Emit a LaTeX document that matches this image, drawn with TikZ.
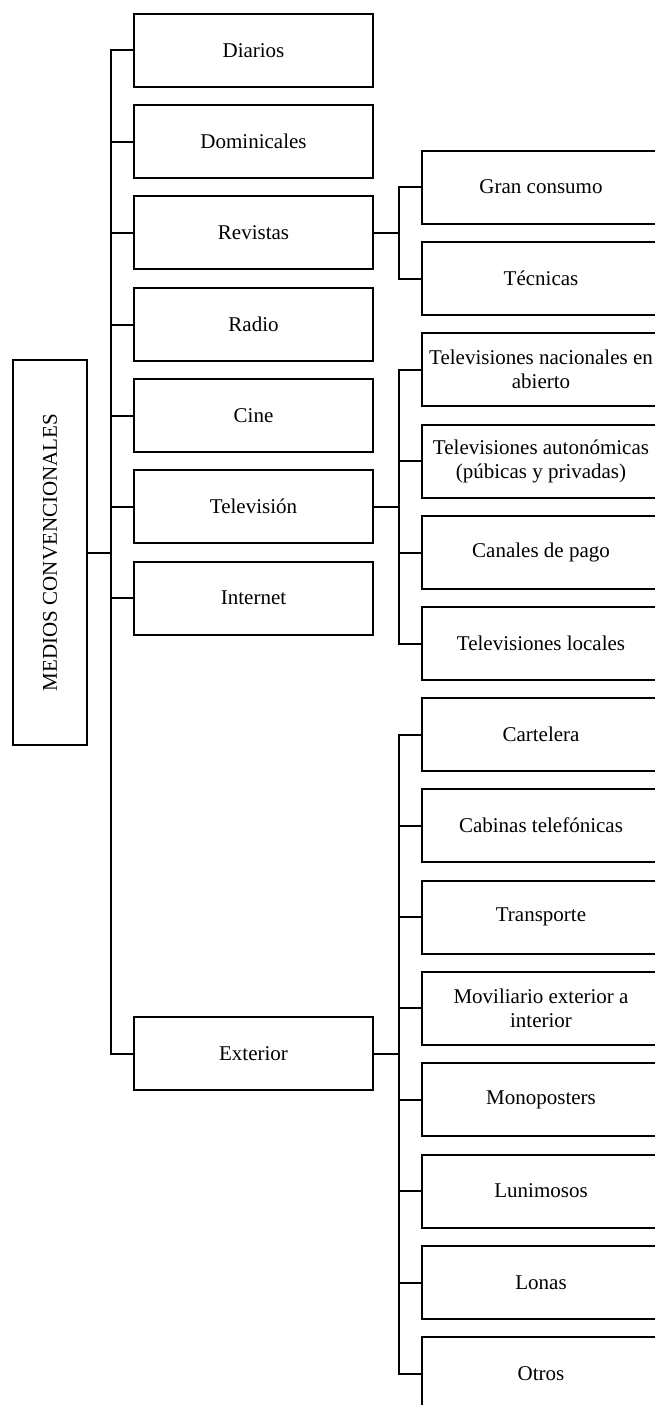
\documentclass[tikz,border=0pt]{standalone}
\usepackage{fontspec}
\setmainfont{Liberation Serif}
\begin{document}
\begin{tikzpicture}[x=1pt,y=-1pt,
  box/.style={draw, line width=2pt, rectangle, minimum width=239pt,
    minimum height=73pt, inner sep=0pt, align=center,
    font=\fontsize{21}{24}\selectfont},
  label/.style={font=\fontsize{21}{24}\selectfont, inner sep=0pt},
  link/.style={line width=2pt}]
\useasboundingbox (0,0) rectangle (654,1405);

% root
\node[box, minimum width=74pt, minimum height=385pt] (root) at (50,552.5) {};
\node[label, rotate=90] (rootlabel) at (root.center) {MEDIOS CONVENCIONALES};

% first level
\node[box] (diarios)     at (253.5,50.5)  {Diarios};
\node[box] (dominicales) at (253.5,141.5) {Dominicales};
\node[box] (revistas)    at (253.5,232.5) {Revistas};
\node[box] (radio)       at (253.5,324.5) {Radio};
\node[box] (cine)        at (253.5,415.5) {Cine};
\node[box] (television)  at (253.5,506.5) {Televisión};
\node[box] (internet)    at (253.5,598)   {Internet};
\node[box] (exterior)    at (253.5,1053.5){Exterior};

% magazines
\node[box] (gran)    at (541,187)   {Gran consumo};
\node[box] (tecnicas) at (541,278.5) {Técnicas};

% television
\node[box] (tvnac)   at (541,369.5) {Televisiones nacionales en\\abierto};
\node[box] (tvaut)   at (541,461)   {Televisiones autonómicas\\(púbicas y privadas)};
\node[box] (tvpago)  at (541,552.5) {Canales de pago};
\node[box] (tvloc)   at (541,643.5) {Televisiones locales};

% outdoor
\node[box] (cartelera) at (541,734.5)  {Cartelera};
\node[box] (cabinas)   at (541,825.5)  {Cabinas telefónicas};
\node[box] (transp)    at (541,917)    {Transporte};
\node[box] (movil)     at (541,1008)   {Moviliario exterior a\\interior};
\node[box] (mono)      at (541,1099.5) {Monoposters};
\node[box] (lumi)      at (541,1191)   {Lunimosos};
\node[box] (lonas)     at (541,1282.5) {Lonas};
\node[box] (otros)     at (541,1373.5) {Otros};

% connectors
\foreach \c in {diarios,dominicales,revistas,radio,cine,television,internet,exterior}
  \draw[link] (root.east) -- ++(23,0) |- (\c.west);
\foreach \c in {gran,tecnicas}
  \draw[link] (revistas.east) -- ++(25,0) |- (\c.west);
\foreach \c in {tvnac,tvaut,tvpago,tvloc}
  \draw[link] (television.east) -- ++(25,0) |- (\c.west);
\foreach \c in {cartelera,cabinas,transp,movil,mono,lumi,lonas,otros}
  \draw[link] (exterior.east) -- ++(25,0) |- (\c.west);
\end{tikzpicture}
\end{document}
